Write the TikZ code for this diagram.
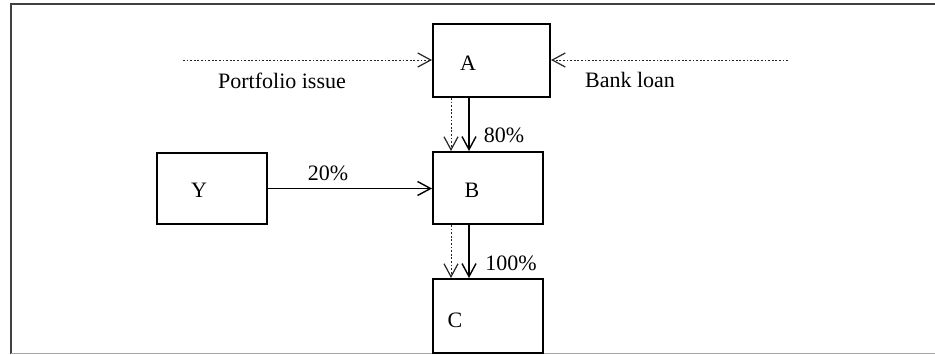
\documentclass[tikz,border=0pt]{standalone}
\usepackage{fontspec}
\setmainfont{Liberation Serif}
\usetikzlibrary{arrows.meta}
\begin{document}
\begin{tikzpicture}[x=0.5pt,y=-0.5pt,
  box/.style={draw=black,line width=1pt,inner sep=0pt},
  lbl/.style={inner sep=0pt,anchor=base,font=\fontsize{11}{13}\selectfont},
  solidarrow/.style={draw=black,line width=0.9pt,-{Straight Barb[length=6.5pt,width=7pt,line width=0.7pt]}},
  dotarrow/.style={draw=black!85,line width=0.5pt,dash pattern=on 0.9pt off 0.9pt,-{Straight Barb[length=6.5pt,width=7pt,line width=0.6pt,sep=0pt]}},
  frame/.style={draw=black!75,line width=1pt}]
\useasboundingbox (0,0) rectangle (935,354);
% frame
\coordinate (ftl) at (11,4);
\coordinate (ftr) at (935,4);
\coordinate (fbl) at (11,354);
\coordinate (fbl2) at (11,353);
\coordinate (fbr) at (935,353);
\draw[frame] (fbl) -- (ftl) -- (ftr);
\draw[draw=black!35,line width=0.5pt] (fbl2) -- (fbr);
% boxes
\node[box,minimum width=117*0.5pt,minimum height=73*0.5pt] (A) at (491.5,60.5) {};
\node[box,minimum width=110*0.5pt,minimum height=72*0.5pt] (B) at (488,188) {};
\node[box,minimum width=110*0.5pt,minimum height=74*0.5pt] (C) at (488,316) {};
\node[box,minimum width=110*0.5pt,minimum height=71*0.5pt] (Y) at (212,188.5) {};
% box texts
\node[lbl] (tA) at (468,70) {A};
\node[lbl] (tB) at (472,197) {B};
\node[lbl] (tC) at (455,327) {C};
\node[lbl] (tY) at (199,197) {Y};
% labels
\node[lbl] (pi) at (282,88) {Portfolio issue};
\node[lbl] (bl) at (630,87) {Bank loan};
\node[lbl] (p20) at (328,180) {20\%};
\node[lbl] (p80) at (504,142) {80\%};
\node[lbl] (p100) at (511,270) {100\%};
% connector coordinates
\coordinate (pstart) at (183,60);
\coordinate (bstart) at (788,60);
\coordinate (xd) at (451,0);
\coordinate (xs) at (469,0);
% connectors
\draw[dotarrow] (pstart) -- (A.west |- pstart);
\draw[dotarrow] (bstart) -- (A.east |- bstart);
\draw[dotarrow] (A.south -| xd) -- (B.north -| xd);
\draw[solidarrow] (A.south -| xs) -- (B.north -| xs);
\draw[dotarrow] (B.south -| xd) -- (C.north -| xd);
\draw[solidarrow] (B.south -| xs) -- (C.north -| xs);
\draw[solidarrow] (Y.east) -- (B.west |- Y.east);
\end{tikzpicture}
\end{document}
